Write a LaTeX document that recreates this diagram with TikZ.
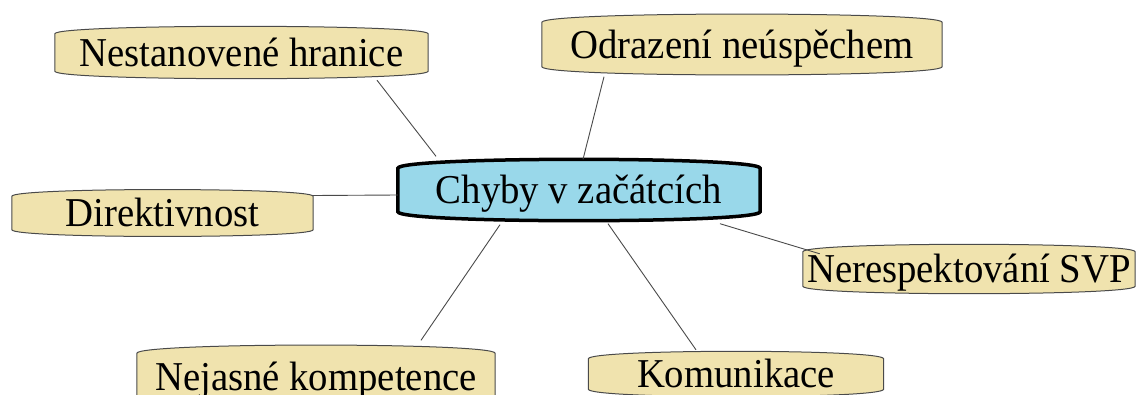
\documentclass[tikz,border=0pt]{standalone}
\usepackage{fontspec}
\setmainfont[FakeStretch=0.945]{Liberation Serif}
\usetikzlibrary{calc}
\pgfdeclarelayer{background}
\pgfsetlayers{background,main}
\definecolor{beige}{HTML}{F0E3AE}
\definecolor{skyb}{HTML}{99D8EA}
\definecolor{edgeg}{HTML}{4A4A4A}
\newcommand\bubblepath[3]{%
  \path[#1] ([yshift=-#3]#2.north west) .. controls ([yshift=2pt]#2.north west) and ([yshift=2pt]#2.north east) .. ([yshift=-#3]#2.north east)
    -- ([yshift=#3]#2.south east) .. controls ([yshift=-2pt]#2.south east) and ([yshift=-2pt]#2.south west) .. ([yshift=#3]#2.south west) -- cycle;}
\tikzset{
  box/.style={draw=none, inner sep=0pt, text height=27pt, text depth=0pt,
    font=\fontsize{41}{41}\selectfont},
  bub/.style={fill=beige, draw=edgeg, line width=1pt},
  mainbub/.style={fill=skyb, draw=black, line width=3.5pt},
  conn/.style={draw=edgeg, line width=0.9pt}
}
\begin{document}
\begin{tikzpicture}[x=1pt,y=-1pt]
\useasboundingbox (0,0) rectangle (1136,394);
\clip (0,0) rectangle (1136,394);
\node[box, minimum width=373pt, minimum height=53pt] (n1) at (241.5,52.5) {Nestanovené hranice};
\node[box, minimum width=400pt, minimum height=62pt] (n2) at (742,44.5) {Odrazení neúspěchem};
\node[box, minimum width=362pt, minimum height=63pt] (c) at (579,190) {Chyby v začátcích};
\node[box, minimum width=301pt, minimum height=47pt] (n3) at (162.5,213) {Direktivnost};
\node[box, minimum width=332pt, minimum height=50pt] (n4) at (969,269) {Nerespektování SVP};
\node[box, minimum width=358pt, minimum height=64pt] (n5) at (316,376.5) {Nejasné kompetence};
\node[box, minimum width=295pt, minimum height=46pt] (n6) at (736,374) {Komunikace};
\begin{pgfonlayer}{background}
\bubblepath{bub}{n1}{8pt}
\bubblepath{bub}{n2}{9pt}
\bubblepath{bub}{n3}{7pt}
\bubblepath{bub}{n4}{8pt}
\bubblepath{bub}{n5}{9pt}
\bubblepath{bub}{n6}{8pt}
\bubblepath{mainbub}{c}{10pt}
\end{pgfonlayer}
\draw[conn] ([xshift=135.5pt,yshift=-1pt]n1.south) -- ([xshift=-143pt,yshift=2pt]c.north);
\draw[conn] ([xshift=-138pt,yshift=-1pt]n2.south) -- ([xshift=4pt,yshift=-1pt]c.north);
\draw[conn] ([yshift=17.5pt]n3.east) -- ([yshift=-5pt]c.west);
\draw[conn] ([xshift=141pt,yshift=-2pt]c.south) -- ([xshift=17pt,yshift=-10pt]n4.north west);
\draw[conn] ([xshift=-79pt,yshift=-3pt]c.south) -- ([xshift=105pt,yshift=4pt]n5.north);
\draw[conn] ([xshift=29pt,yshift=-2pt]c.south) -- ([xshift=-40pt,yshift=1pt]n6.north);
\end{tikzpicture}
\end{document}
